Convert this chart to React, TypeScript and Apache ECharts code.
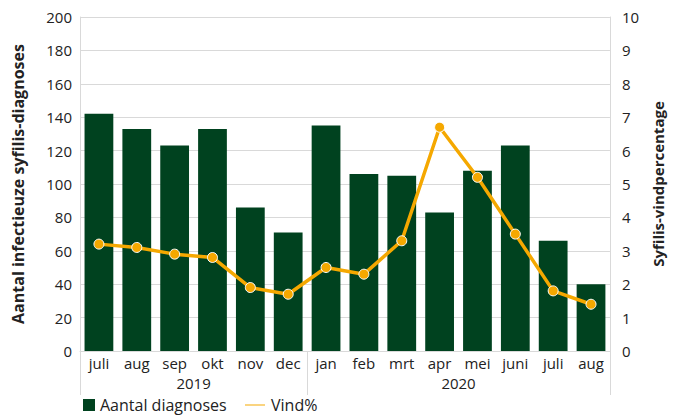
import React, { useEffect, useRef } from "react";
import * as echarts from "echarts";

const months = ["juli", "aug", "sep", "okt", "nov", "dec", "jan", "feb", "mrt", "apr", "mei", "juni", "juli", "aug"];
const years = ["2019", "2020"];
const yearSpans = [6, 8];
const diagnoses = [142, 133, 123, 133, 86, 71, 135, 106, 105, 83, 108, 123, 66, 40];
const vindPct = [3.2, 3.1, 2.9, 2.8, 1.9, 1.7, 2.5, 2.3, 3.3, 6.7, 5.2, 3.5, 1.8, 1.4];

const FONT = "'Open Sans', 'Noto Sans', sans-serif";
const GREEN = "#00421f";
const YELLOW = "#f5a800";
const GRID = "#d9d9d9";
const TEXT = "#222";

export default function App() {
  const ref = useRef<HTMLDivElement>(null);
  useEffect(() => {
    if (!ref.current) return;
    const chart = echarts.init(ref.current, null, { renderer: "svg" });
    const bounds: number[] = [0];
    yearSpans.forEach((s) => bounds.push(bounds[bounds.length - 1] + s));
    const centers = yearSpans.map((s, i) => bounds[i] + s / 2);
    const total = bounds[bounds.length - 1];
    chart.setOption({
      animation: false,
      textStyle: { fontFamily: FONT },
      grid: { left: 80, right: 56, top: 17, bottom: 68 },
      legend: [
        {
          left: 83,
          top: 397,
          padding: 0,
          itemGap: 6,
          itemWidth: 12,
          itemHeight: 12,
          textStyle: { fontSize: 16, color: TEXT, fontFamily: FONT },
          data: [{ name: "Aantal diagnoses", icon: "rect" }],
        },
        {
          left: 243,
          top: 397,
          padding: 0,
          itemWidth: 22,
          itemHeight: 3,
          textStyle: { fontSize: 16, color: TEXT, fontFamily: FONT },
          data: [{ name: "Vind%", icon: "rect" }],
        },
      ],
      xAxis: [
        {
          type: "category",
          data: months,
          axisLine: { show: true, lineStyle: { color: GRID, width: 1 } },
          axisTick: { show: false },
          axisLabel: { color: TEXT, fontSize: 15, margin: 4, interval: 0 },
        },
        {
          type: "value",
          position: "bottom",
          min: 0,
          max: total,
          interval: 1,
          splitLine: { show: false },
          axisLine: { show: false },
          axisTick: { show: true, customValues: bounds, length: 44, lineStyle: { color: GRID } },
          axisLabel: {
            show: true,
            customValues: centers,
            margin: 24,
            color: TEXT,
            fontSize: 15,
            formatter: (v: number) => {
              const i = centers.indexOf(v);
              return i >= 0 ? years[i] : "";
            },
          },
        },
      ],
      yAxis: [
        {
          type: "value",
          min: 0,
          max: 200,
          interval: 20,
          name: "Aantal infectieuze syfilis-diagnoses",
          nameLocation: "middle",
          nameGap: 54,
          nameRotate: 90,
          nameTextStyle: { fontWeight: "bold", fontSize: 16, color: TEXT },
          axisLine: { show: true, lineStyle: { color: GRID } },
          axisTick: { show: false },
          axisLabel: { color: TEXT, fontSize: 15, margin: 8 },
          splitLine: { show: true, lineStyle: { color: GRID, width: 1 } },
        },
        {
          type: "value",
          min: 0,
          max: 10,
          interval: 1,
          name: "Syfilis-vindpercentage",
          nameLocation: "middle",
          nameGap: 32,
          nameRotate: 90,
          nameTextStyle: { fontWeight: "bold", fontSize: 15, color: TEXT },
          axisLine: { show: true, lineStyle: { color: GRID } },
          axisTick: { show: false },
          axisLabel: { color: TEXT, fontSize: 15, margin: 12 },
          splitLine: { show: false },
        },
      ],
      series: [
        {
          name: "Aantal diagnoses",
          type: "bar",
          data: diagnoses,
          barWidth: "76%",
          itemStyle: { color: GREEN },
          xAxisIndex: 0,
          yAxisIndex: 0,
        },
        {
          name: "Vind%",
          type: "line",
          data: vindPct,
          xAxisIndex: 0,
          yAxisIndex: 1,
          symbol: "circle",
          symbolSize: 10,
          lineStyle: { color: YELLOW, width: 3.5 },
          itemStyle: { color: YELLOW, borderColor: "#fff", borderWidth: 1 },
        },
      ],
    });
    return () => chart.dispose();
  }, []);
  return <div ref={ref} style={{ width: 673, height: 419, position: "absolute", left: 0, top: 0 }} />;
}
